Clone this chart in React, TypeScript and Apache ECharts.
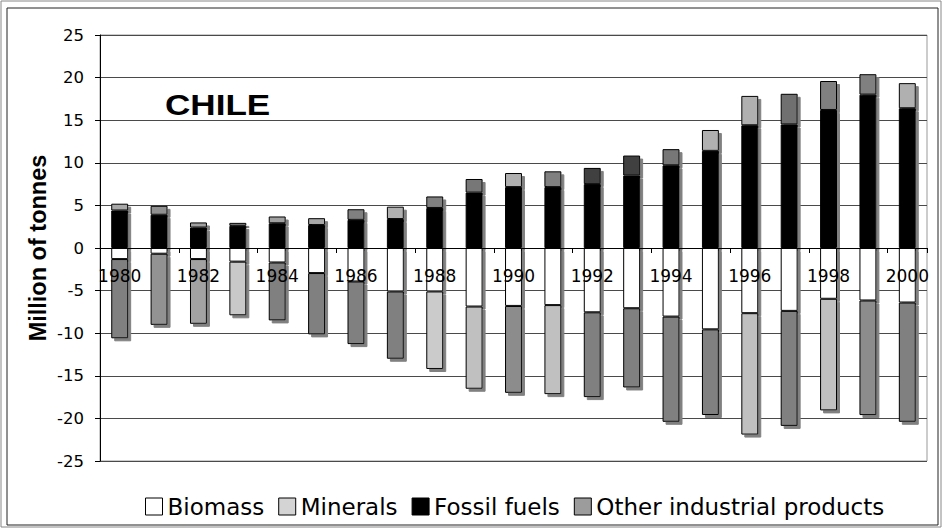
import React, { useEffect, useRef } from "react";
import * as echarts from "echarts";

const years = [
  "1980", "1981", "1982", "1983", "1984", "1985", "1986", "1987", "1988", "1989", "1990",
  "1991", "1992", "1993", "1994", "1995", "1996", "1997", "1998", "1999", "2000",
];
const biomass = [-1.3, -0.67, -1.3, -1.6, -1.7, -2.94, -3.93, -5.1, -5.1, -6.87, -6.8, -6.7, -7.55, -7.07, -8.05, -9.55, -7.65, -7.38, -5.96, -6.16, -6.4];
const minerals = [-9.3, -8.35, -7.6, -6.3, -6.8, -7.2, -7.35, -7.9, -9.1, -9.65, -10.2, -10.45, -9.95, -9.3, -12.35, -10.05, -14.25, -13.5, -13.1, -13.45, -14.0];
const fossilFuels = [4.4, 3.9, 2.4, 2.6, 2.9, 2.7, 3.3, 3.4, 4.7, 6.5, 7.15, 7.15, 7.5, 8.5, 9.7, 11.4, 14.4, 14.5, 16.2, 18.0, 16.4];
const otherIndustrial = [0.8, 1.05, 0.6, 0.35, 0.8, 0.8, 1.25, 1.45, 1.35, 1.6, 1.65, 1.85, 1.9, 2.35, 1.9, 2.45, 3.45, 3.6, 3.4, 2.4, 2.95];

const seriesNames = ["Biomass", "Minerals", "Fossil fuels", "Other industrial products"];
const yAxisTitle = "Million of tonnes";
const yTicksMin = -25;
const yTicksMax = 25;
const yTickStep = 5;

// per-bar fill shades seen in the reference (style only)
const mineralShades = [
  "#808080", "#929292", "#a2a2a2", "#c8c8c8", "#808080", "#808080", "#808080", "#808080",
  "#cbcbcb", "#c0c0c0", "#8c8c8c", "#c0c0c0", "#808080", "#808080", "#808080", "#808080",
  "#c0c0c0", "#808080", "#c0c0c0", "#8c8c8c", "#808080",
];
const otherShades = [
  "#a8a8a8", "#909090", "#a0a0a0", "#808080", "#a0a0a0", "#a8a8a8", "#808080", "#b0b0b0",
  "#808080", "#777777", "#b0b0b0", "#808080", "#404040", "#404040", "#777777", "#b0b0b0",
  "#b0b0b0", "#707070", "#808080", "#808080", "#b0b0b0",
];

const GRID_TOP = 35;
const GRID_BOTTOM = 67;
const H = 528;

export default function App() {
  const ref = useRef<HTMLDivElement>(null);

  useEffect(() => {
    if (!ref.current) return;
    const chart = echarts.init(ref.current, undefined, { renderer: "svg" });

    const shadow = {
      shadowColor: "#808080",
      shadowBlur: 0,
      shadowOffsetX: 3,
      shadowOffsetY: 3,
      borderColor: "#000",
      borderWidth: 1,
    };

    const mk = (vals: number[], shades?: string[]) =>
      vals.map((v, i) => (shades ? { value: v, itemStyle: { color: shades[i] } } : v));

    const gridHeight = H - GRID_TOP - GRID_BOTTOM;
    // place the category axis on the zero line
    const zeroOffset = -gridHeight * (0 - yTicksMin) / (yTicksMax - yTicksMin);

    const option: any = {
      animation: false,
      backgroundColor: "#fff",
      grid: {
        left: 100,
        right: 15,
        top: GRID_TOP,
        bottom: GRID_BOTTOM,
        show: true,
        borderColor: "#999",
        borderWidth: 1,
        backgroundColor: "transparent",
      },
      legend: {
        data: seriesNames,
        left: 145,
        top: 495,
        padding: 0,
        itemWidth: 17,
        itemHeight: 17,
        itemGap: 14,
        icon: "rect",
        textStyle: { fontFamily: "DejaVu Sans", fontSize: 23, color: "#000" },
        itemStyle: {
          borderColor: "#000",
          borderWidth: 1,
          shadowBlur: 0,
          shadowOffsetX: 0,
          shadowOffsetY: 0,
          shadowColor: "transparent",
        },
      },
      xAxis: {
        type: "category",
        data: years,
        z: 10,
        position: "bottom",
        offset: zeroOffset,
        axisLine: { onZero: false, lineStyle: { color: "#000", width: 1 } },
        axisTick: { show: true, length: 5, inside: false, lineStyle: { color: "#000" } },
        axisLabel: {
          interval: 1,
          margin: 19,
          fontFamily: "DejaVu Sans",
          fontSize: 17,
          color: "#000",
        },
        splitLine: { show: false },
      },
      yAxis: {
        type: "value",
        min: yTicksMin,
        max: yTicksMax,
        interval: yTickStep,
        axisLine: { show: true, lineStyle: { color: "#000", width: 1 } },
        axisTick: { show: true, length: 5, lineStyle: { color: "#000" } },
        axisLabel: { margin: 16, fontFamily: "DejaVu Sans", fontSize: 16.5, color: "#000" },
        splitLine: { show: true, lineStyle: { color: "#4a4a4a", width: 1 } },
      },
      series: [
        {
          name: seriesNames[0],
          type: "bar",
          stack: "total",
          barWidth: "43%",
          z: 4,
          itemStyle: { color: "#ffffff", ...shadow },
          data: mk(biomass),
        },
        {
          name: seriesNames[1],
          type: "bar",
          stack: "total",
          barWidth: "43%",
          z: 5,
          itemStyle: { color: "#d4d4d4", ...shadow },
          data: mk(minerals, mineralShades),
        },
        {
          name: seriesNames[2],
          type: "bar",
          stack: "total",
          barWidth: "43%",
          z: 3,
          itemStyle: { color: "#000000", ...shadow },
          data: mk(fossilFuels),
        },
        {
          name: seriesNames[3],
          type: "bar",
          stack: "total",
          barWidth: "43%",
          z: 2,
          itemStyle: { color: "#9c9c9c", ...shadow },
          data: mk(otherIndustrial, otherShades),
        },
      ],
      graphic: [
        {
          type: "rect",
          z: 0,
          silent: true,
          shape: { x: 1, y: 1, width: 940, height: 526 },
          style: { fill: "none", stroke: "#888", lineWidth: 1 },
        },
        {
          type: "rect",
          z: 0,
          silent: true,
          shape: { x: 7, y: 8, width: 931, height: 517 },
          style: { fill: "none", stroke: "#222", lineWidth: 1 },
        },
        {
          type: "text",
          z: 20,
          x: 165,
          y: 104,
          scaleX: 1.17,
          style: {
            text: "CHILE",
            fontFamily: "Liberation Sans",
            fontWeight: "bold",
            fontSize: 30,
            fill: "#000",
            textAlign: "left",
            textVerticalAlign: "middle",
          },
        },
        {
          type: "text",
          z: 20,
          x: 38,
          y: 248,
          rotation: Math.PI / 2,
          style: {
            text: yAxisTitle,
            fontFamily: "Liberation Sans",
            fontWeight: "bold",
            fontSize: 23.5,
            fill: "#000",
            textAlign: "center",
            textVerticalAlign: "middle",
          },
        },
      ],
    };

    chart.setOption(option);
    return () => chart.dispose();
  }, []);

  return (
    <div
      ref={ref}
      style={{ position: "absolute", left: 0, top: 0, width: 942, height: 528 }}
    />
  );
}
